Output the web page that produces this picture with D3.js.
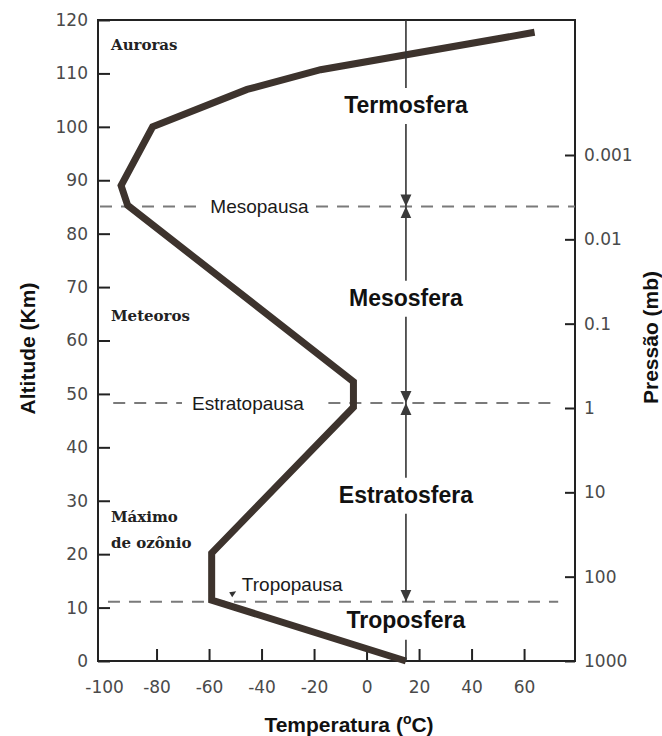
<!DOCTYPE html>
<meta charset="utf-8">
<style>
    body { margin: 0; background: #fff; }
    .tick text { font-family: "DejaVu Sans", sans-serif; font-size: 17px; fill: #4a4a4a; }
    .tick line { stroke: #222; stroke-width: 2px; }
    .frame { fill: none; stroke: #222; stroke-width: 2px; }
    .profile { fill: none; stroke: #3d332d; stroke-width: 7px; stroke-linejoin: miter; }
    .pause { stroke: #7a7a7a; stroke-width: 2px; stroke-dasharray: 12, 9; }
    .guide { stroke: #333; stroke-width: 1.6px; fill: none; }
    .layer { font-family: "Liberation Sans", Arial, sans-serif; font-weight: bold; font-size: 23px; fill: #111; }
    .pause-label { font-family: "Liberation Sans", Arial, sans-serif; font-size: 19px; fill: #1a1a1a; }
    .note { font-family: "DejaVu Serif", serif; font-weight: bold; font-size: 15px; fill: #222; }
    .title { font-family: "Liberation Sans", Arial, sans-serif; font-weight: bold; font-size: 21px; fill: #111; }
</style>

<svg width="662" height="736"></svg>
<script src="https://d3js.org/d3.v7.min.js"></script>
<script>

    var altTicks = [0, 10, 20, 30, 40, 50, 60, 70, 80, 90, 100, 110, 120];
    var tempTicks = [-100, -80, -60, -40, -20, 0, 20, 40, 60];
    var pressTicks = [1000, 100, 10, 1, 0.1, 0.01, 0.001];

    // temperature profile (°C) against altitude (km)
    var profileTemp = [15, -59, -59, -5, -5, -91, -93.5, -81.5, -45.5, -17.5, 64];
    var profileAlt = [0, 11.4, 20.2, 47.5, 52.3, 85.3, 89, 100, 107, 110.7, 117.7];

    var pauseNames = ["Tropopausa", "Estratopausa", "Mesopausa"];
    var pauseAlt = [11.1, 48.3, 85.1];
    var layerNames = ["Troposfera", "Estratosfera", "Mesosfera", "Termosfera"];
    var refTemp = 15;

    var svg = d3.select("svg");

    var x = d3.scaleLinear().domain([-102.3, 79.4]).range([98, 575]);
    var y = d3.scaleLinear().domain([0, 120]).range([661, 20]);
    var p = d3.scaleLog().domain([1000, 0.001]).range([y(0), 155]);

    var x0 = x.range()[0], x1 = x.range()[1];

    // axes
    var gL = svg.append("g")
        .attr("transform", "translate(" + x0 + ",0)")
        .call(d3.axisLeft(y).tickValues(altTicks).tickSize(-12).tickSizeOuter(0).tickPadding(10)
            .tickFormat(function (d) { return String(d); }));
    gL.select(".domain").remove();

    var gB = svg.append("g")
        .attr("transform", "translate(0," + y(0) + ")")
        .call(d3.axisBottom(x).tickValues(tempTicks).tickSize(-12).tickSizeOuter(0).tickPadding(20)
            .tickFormat(function (d) { return String(d); }));
    gB.select(".domain").remove();
    gB.selectAll(".tick line").filter(function (d) { return d === tempTicks[0]; }).remove();

    var gR = svg.append("g")
        .attr("transform", "translate(" + x1 + ",0)")
        .call(d3.axisRight(p).tickValues(pressTicks).tickSize(-10).tickSizeOuter(0).tickPadding(9)
            .tickFormat(function (d) { return String(d); }));
    gR.select(".domain").remove();

    svg.append("rect")
        .attr("class", "frame")
        .attr("x", x0).attr("y", y(120))
        .attr("width", x1 - x0).attr("height", y(0) - y(120));

    // arrow marker
    svg.append("defs").append("marker")
        .attr("id", "tri")
        .attr("viewBox", "0 0 12 12")
        .attr("refX", 12).attr("refY", 6)
        .attr("markerWidth", 12).attr("markerHeight", 12)
        .attr("markerUnits", "userSpaceOnUse")
        .attr("orient", "auto")
        .append("path").attr("d", "M0,0.5L12,6L0,11.5Z").attr("fill", "#3a3a3a");

    // pause lines (dashed) with labels
    var pauseG = svg.append("g");
    var xr = x(refTemp);

    function dashed(xa, xb, alt) {
        pauseG.append("line").attr("class", "pause")
            .attr("x1", xa).attr("x2", xb).attr("y1", y(alt)).attr("y2", y(alt));
    }

    // Mesopausa
    var meso = pauseG.append("text").attr("class", "pause-label")
        .attr("x", x(-59.5)).attr("y", y(pauseAlt[2])).attr("dy", "0.35em")
        .text(pauseNames[2]);
    var mb = meso.node().getBBox();
    dashed(x0 + 2, mb.x - 6, pauseAlt[2]);
    dashed(mb.x + mb.width + 7, x1, pauseAlt[2]);

    // Estratopausa
    var estr = pauseG.append("text").attr("class", "pause-label")
        .attr("x", x(-66.5)).attr("y", y(pauseAlt[1])).attr("dy", "0.35em")
        .text(pauseNames[1]);
    var eb = estr.node().getBBox();
    dashed(x(-96.5), eb.x - 10, pauseAlt[1]);
    dashed(eb.x + eb.width + 24, x(71), pauseAlt[1]);

    // Tropopausa
    dashed(x(-98.5), x(73), pauseAlt[0]);
    pauseG.append("text").attr("class", "pause-label")
        .attr("x", x(-47.5)).attr("y", y(14.4)).attr("dy", "0.35em")
        .text(pauseNames[0]);
    pauseG.append("path")
        .attr("d", "M" + (x(-50.8) - 4) + "," + (y(12.3) - 3) + "L" + (x(-50.8) + 3) + "," + (y(12.3) - 4) + "L" + (x(-50.8) - 1) + "," + (y(12.3) + 2) + "Z")
        .attr("fill", "#333");

    // temperature profile
    var profile = profileAlt.map(function (a, i) { return [profileTemp[i], a]; });
    var line = d3.line()
        .x(function (d) { return x(d[0]); })
        .y(function (d) { return y(d[1]); });

    svg.append("path")
        .datum(profile)
        .attr("class", "profile")
        .attr("d", line);

    // layer labels along the reference line
    var layerAt = [7.7, 31.1, 68, 104.1];
    var guideG = svg.append("g");

    layerNames.forEach(function (name, i) {
        guideG.append("text").attr("class", "layer")
            .attr("x", xr).attr("y", y(layerAt[i])).attr("dy", "0.35em")
            .attr("text-anchor", "middle")
            .text(name);
    });

    function seg(ya, yb, arrow) {
        var l = guideG.append("line").attr("class", "guide")
            .attr("x1", xr).attr("x2", xr).attr("y1", ya).attr("y2", yb);
        if (arrow) l.attr("marker-end", "url(#tri)");
    }

    var above = 17, below = 19;
    seg(y(120), y(layerAt[3]) - above, false);
    seg(y(layerAt[3]) + below, y(pauseAlt[2]), true);
    seg(y(layerAt[2]) - above, y(pauseAlt[2]), true);
    seg(y(layerAt[2]) + below, y(pauseAlt[1]), true);
    seg(y(layerAt[1]) - above, y(pauseAlt[1]), true);
    seg(y(layerAt[1]) + below, y(pauseAlt[0]), true);
    seg(y(layerAt[0]) + 20, y(0), false);

    // notes
    var notes = [
        { t: "Auroras", a: 115.3 },
        { t: "Meteoros", a: 64.6 },
        { t: "Máximo", a: 27 },
        { t: "de ozônio", a: 22.1 }
    ];
    svg.append("g").selectAll("text")
        .data(notes)
        .enter().append("text")
        .attr("class", "note")
        .attr("x", x0 + 13)
        .attr("y", function (d) { return y(d.a); })
        .attr("dy", "0.35em")
        .text(function (d) { return d.t; });

    // axis titles
    svg.append("text").attr("class", "title")
        .attr("transform", "translate(35," + ((y(0) + y(120)) / 2 + 8) + ") rotate(-90)")
        .attr("text-anchor", "middle")
        .text("Altitude (Km)");

    svg.append("text").attr("class", "title")
        .attr("transform", "translate(658," + ((y(0) + y(120)) / 2 - 3) + ") rotate(-90)")
        .attr("text-anchor", "middle")
        .text("Pressão (mb)");

    var tt = svg.append("text").attr("class", "title")
        .attr("x", 349).attr("y", 732)
        .attr("text-anchor", "middle");
    tt.append("tspan").text("Temperatura (");
    tt.append("tspan").attr("dy", -8).style("font-size", "14px").text("o");
    tt.append("tspan").attr("dy", 8).text("C)");

</script>
